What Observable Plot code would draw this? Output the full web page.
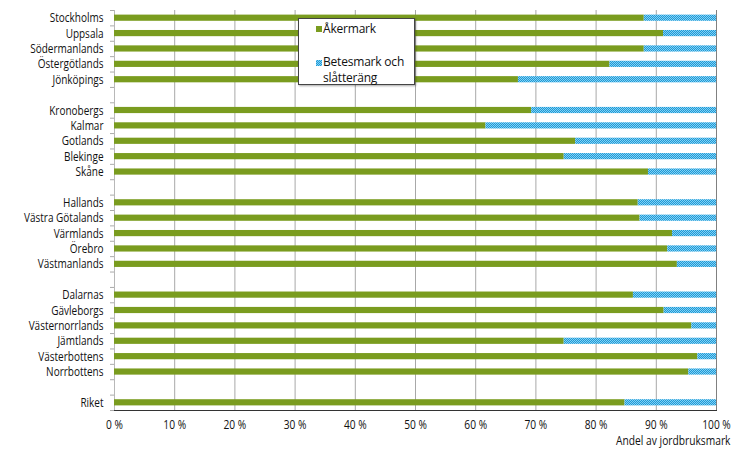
<!DOCTYPE html>
<html>
<head>
<meta charset="utf-8">
<script src="https://cdn.jsdelivr.net/npm/d3@7"></script>
<script src="https://cdn.jsdelivr.net/npm/@observablehq/plot@0.6"></script>
<style>
  body { margin: 0; background: #fff; font-family: "Open Sans", sans-serif; }
  #wrap { position: relative; width: 740px; height: 459px; }
  #legend {
    position: absolute; left: 298px; top: 18px; width: 115px; height: 65px;
    border: 1px solid #444; background: #fff; box-shadow: 1px 1px 2px rgba(0,0,0,0.35);
    font-size: 12px; color: #111; letter-spacing: -0.2px;
  }
  #legend .sw { position: absolute; left: 17px; width: 6px; height: 6px; }
  #legend .txt { position: absolute; left: 24px; white-space: nowrap; line-height: 13px; }
</style>
</head>
<body>
<div id="wrap">
  <div id="chart"></div>
  <div id="legend"></div>
</div>
<script>
// Categories (with blank spacer rows between groups)
const categories = ["Stockholms","Uppsala","Södermanlands","Östergötlands","Jönköpings"," ",
  "Kronobergs","Kalmar","Gotlands","Blekinge","Skåne","  ",
  "Hallands","Västra Götalands","Värmlands","Örebro","Västmanlands","   ",
  "Dalarnas","Gävleborgs","Västernorrlands","Jämtlands","Västerbottens","Norrbottens","    ",
  "Riket"];
const regions = ["Stockholms","Uppsala","Södermanlands","Östergötlands","Jönköpings",
  "Kronobergs","Kalmar","Gotlands","Blekinge","Skåne",
  "Hallands","Västra Götalands","Värmlands","Örebro","Västmanlands",
  "Dalarnas","Gävleborgs","Västernorrlands","Jämtlands","Västerbottens","Norrbottens",
  "Riket"];
const akermark = [88.0, 91.2, 88.0, 82.3, 67.1,
  69.3, 61.7, 76.6, 74.7, 88.7,
  87.0, 87.3, 92.7, 91.9, 93.5,
  86.2, 91.3, 95.9, 74.7, 96.9, 95.4,
  84.8];
const betesmark = [12.0, 8.8, 12.0, 17.7, 32.9,
  30.7, 38.3, 23.4, 25.3, 11.3,
  13.0, 12.7, 7.3, 8.1, 6.5,
  13.8, 8.7, 4.1, 25.3, 3.1, 4.6,
  15.2];
const seriesNames = ["Åkermark", "Betesmark och slåtteräng"];
const legendLines = [["Åkermark"], ["Betesmark och", "slåtteräng"]];
const xTicks = [0, 10, 20, 30, 40, 50, 60, 70, 80, 90, 100];
const xLabel = "Andel av jordbruksmark";

const GREEN = "#7a9c1f";
const BLUE_FILL = "url(#dots)";

const rows = [];
regions.forEach((r, i) => {
  rows.push({region: r, type: seriesNames[0], value: akermark[i]});
  rows.push({region: r, type: seriesNames[1], value: betesmark[i]});
});

const plotTop = 10, plotBottom = 410;
const step = (plotBottom - plotTop) / categories.length;

const chart = Plot.plot({
  width: 740,
  height: 459,
  marginLeft: 114,
  marginRight: 24,
  marginTop: plotTop,
  marginBottom: 459 - plotBottom,
  style: {fontFamily: "Open Sans, sans-serif", fontSize: "12px", color: "#111", background: "#fff"},
  x: {domain: [0, 100], axis: null},
  y: {domain: categories, padding: 0, round: false, axis: null},
  color: {domain: seriesNames, range: [GREEN, BLUE_FILL]},
  marks: [
    Plot.gridX(xTicks, {stroke: "#a8a8a8", strokeOpacity: 1, strokeWidth: 1}),
    Plot.ruleX([100], {stroke: "#808080", strokeWidth: 1}),
    Plot.ruleX([0], {stroke: "#b8b8b8", strokeWidth: 1}),
    Plot.barX(rows, Plot.stackX({y: "region", x: "value", fill: "type", insetTop: 4.6, insetBottom: 4.6})),
    Plot.axisY({tickSize: 0, tickPadding: 11, fontSize: 12.5, fill: "#111", label: null}),
    Plot.axisY({tickSize: 4, fill: "none", stroke: "#aaa", dy: -step / 2, label: null}),
    Plot.axisY({ticks: ["Riket"], tickSize: 4, fill: "none", stroke: "#aaa", dy: step / 2, label: null}),
    Plot.frame({anchor: "bottom", stroke: "#333", strokeWidth: 1}),
    Plot.axisX({ticks: xTicks, tickSize: 0, tickPadding: 10, tickFormat: d => `${d} %`, fontSize: 12, fill: "#111", label: null}),
    Plot.text([xLabel], {frameAnchor: "bottom-right", dx: 14, dy: 34, textAnchor: "end", fontSize: 12.5, fill: "#111"})
  ]
});

// pattern definition for the blue dotted series
const ns = "http://www.w3.org/2000/svg";
const defs = document.createElementNS(ns, "defs");
defs.innerHTML = `<pattern id="dots" width="2" height="2" patternUnits="userSpaceOnUse">
  <rect width="2" height="2" fill="#1c9ad8"/>
  <rect width="1" height="1" fill="#86d0f2"/>
  <rect x="1" y="1" width="1" height="1" fill="#86d0f2"/>
</pattern>`;
chart.insertBefore(defs, chart.firstChild);

// condense the narrow label typeface of the original
function condense(selector, k) {
  chart.querySelectorAll(selector).forEach(t => {
    const tr = t.getAttribute("transform") || "";
    t.setAttribute("transform", tr + ` scale(${k},1)`);
  });
}
condense('g[aria-label="y-axis tick label"] text', 0.8);
condense('g[aria-label="x-axis tick label"] text', 0.85);
condense('g[aria-label="text"] text', 0.82);
document.getElementById("chart").appendChild(chart);

// legend
const legend = document.getElementById("legend");
const swatchTops = [7, 41];
const lineTops = [[3], [36], [52]];
legendLines.forEach((lines, k) => {
  const sw = document.createElement("div");
  sw.className = "sw";
  sw.style.top = swatchTops[k] + "px";
  sw.innerHTML = `<svg width="6" height="6" style="display:block"><rect width="6" height="6" fill="${k === 0 ? GREEN : BLUE_FILL}"/></svg>`;
  legend.appendChild(sw);
  lines.forEach((ln, j) => {
    const t = document.createElement("div");
    t.className = "txt";
    t.style.top = (k === 0 ? 3 : (j === 0 ? 36 : 52)) + "px";
    t.textContent = ln;
    legend.appendChild(t);
  });
});
</script>
</body>
</html>
